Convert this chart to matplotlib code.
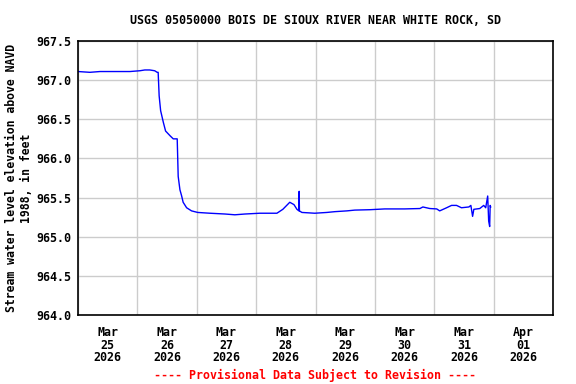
import numpy as np
import pandas as pd
import matplotlib
matplotlib.use("Agg")
from matplotlib import pyplot as plt
import matplotlib.dates as mdates

# hours since 2026-03-25 00:00 and elevation (ft)
hours = [0, 4.8, 8.9, 12.9, 17, 21, 25, 27, 29, 31, 32, 32.4, 32.8, 33.4, 34.5,
         35.4, 37.2, 38.5, 40.1, 40.5, 41.2, 41.9, 42.5, 43.9, 45.9, 48.4, 53.3,
         59.4, 63.4, 67.5, 73.5, 80.4, 82.8, 85.6, 87.3, 88.5, 89.3, 89.4, 89.5,
         90.5, 95.7, 100.6, 103.8, 108.7, 111.9, 118, 124, 132, 138.2, 139.4,
         142.2, 145, 146.2, 149, 151, 153, 155, 158, 158.8, 159.5, 160, 162.4,
         164, 164.8, 165.6, 166, 166.4, 166.6, 166.8]
elev = [967.11, 967.10, 967.11, 967.11, 967.11, 967.11, 967.12, 967.13, 967.13,
        967.12, 967.10, 967.10, 966.80, 966.61, 966.46, 966.35, 966.29, 966.25,
        966.25, 965.77, 965.60, 965.52, 965.44, 965.37, 965.33, 965.31, 965.30,
        965.29, 965.28, 965.29, 965.30, 965.30, 965.35, 965.44, 965.41, 965.35,
        965.33, 965.58, 965.33, 965.31, 965.30, 965.31, 965.32, 965.33, 965.34,
        965.345, 965.355, 965.355, 965.36, 965.38, 965.36, 965.355, 965.33,
        965.37, 965.40, 965.40, 965.37, 965.38, 965.40, 965.26, 965.35, 965.36,
        965.40, 965.37, 965.52, 965.20, 965.13, 965.40, 965.38]

start = pd.Timestamp("2026-03-25")
times = start + pd.to_timedelta(hours, unit="h")

title = "USGS 05050000 BOIS DE SIOUX RIVER NEAR WHITE ROCK, SD"
ylabel = "Stream water level elevation above NAVD\n1988, in feet"
footer = "---- Provisional Data Subject to Revision ----"

mono = "DejaVu Sans Mono"
fs = 8.4

fig = plt.figure(figsize=(5.76, 3.84), dpi=100)
ax = fig.add_axes([78 / 576, 1 - 315 / 384, 475 / 576, 274 / 384])

ax.plot(times, elev, color="#0000ff", lw=1)

ax.set_xlim(start, start + pd.Timedelta(days=8))
ax.set_ylim(964.0, 967.5)
yt = np.arange(964.0, 967.51, 0.5)
ax.set_yticks(yt)
ax.set_yticklabels([f"{v:.1f}" for v in yt], family=mono, fontweight="bold", fontsize=fs)

# grid lines at midnight, date labels at noon
ax.xaxis.set_major_locator(mdates.DayLocator())
ax.xaxis.set_major_formatter(plt.NullFormatter())
ax.xaxis.set_minor_locator(mdates.HourLocator(byhour=12))
ax.xaxis.set_minor_formatter(mdates.DateFormatter("%b\n%d\n%Y"))
for lab in ax.get_xticklabels(minor=True):
    lab.set_family(mono)
    lab.set_fontweight("bold")
    lab.set_fontsize(fs)
    lab.set_linespacing(0.95)
ax.tick_params(axis="x", which="both", length=0, pad=8)
ax.tick_params(axis="y", length=0, pad=5)

ax.grid(True, which="major", color="#cccccc", lw=1)
ax.set_axisbelow(True)
for s in ax.spines.values():
    s.set_linewidth(1.2)

ax.set_ylabel(ylabel, family=mono, fontweight="bold", fontsize=8.3,
              linespacing=1.25, labelpad=2)

fig.text((78 + 553) / 2 / 576, 1 - 20 / 384, title, ha="center", va="center",
         family=mono, fontweight="bold", fontsize=fs)
fig.text((78 + 553) / 2 / 576, 1 - 375 / 384, footer, ha="center", va="center",
         family=mono, fontweight="bold", fontsize=fs, color="red")

fig.savefig("out.png", dpi=100)
